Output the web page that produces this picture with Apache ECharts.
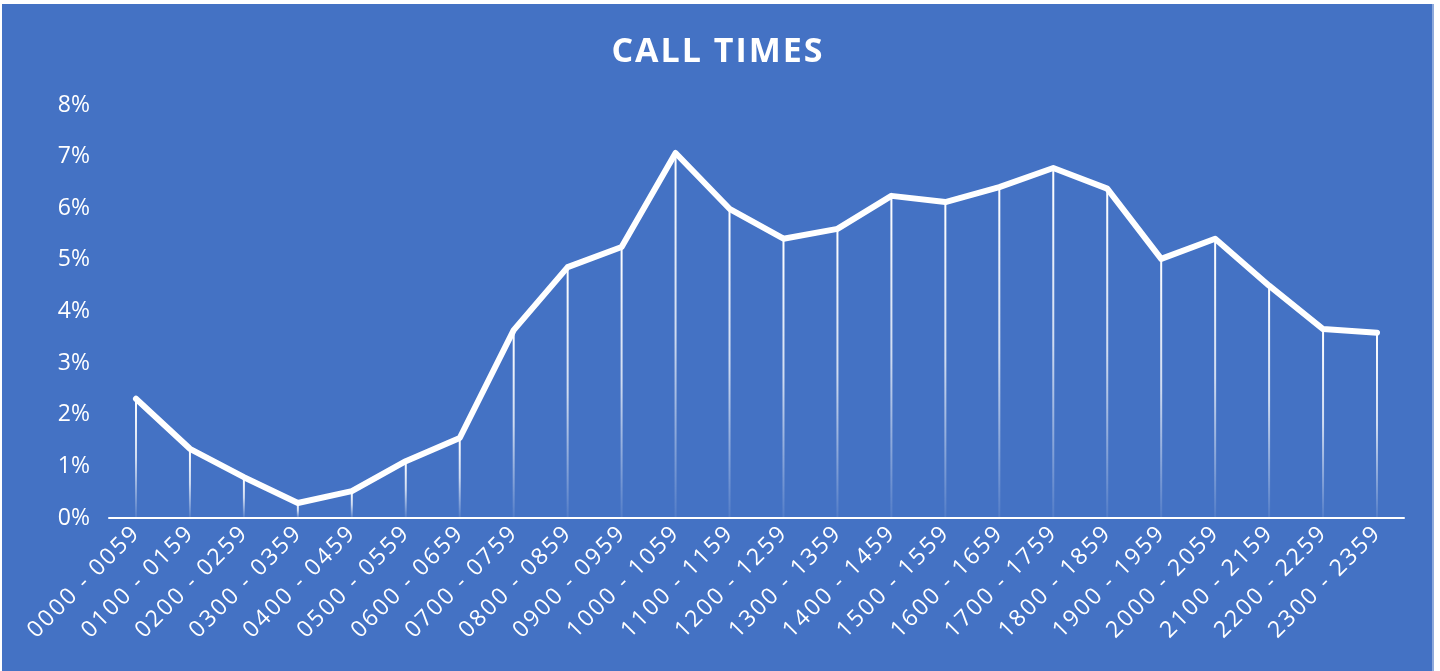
<!DOCTYPE html>
<html>
<head>
<meta charset="utf-8">
<script src="https://cdn.jsdelivr.net/npm/echarts@6/dist/echarts.min.js"></script>
<style>
html,body{margin:0;padding:0;background:#fff;width:1440px;height:671px;overflow:hidden;}
#chart{position:absolute;left:2px;top:4px;width:1432px;height:667px;background:#4472C4;border-right:2px solid #8FAADC;box-sizing:border-box;}
</style>
</head>
<body>
<div id="chart"></div>
<script>
const titleText = "CALL TIMES";
const categories = ["0000 - 0059","0100 - 0159","0200 - 0259","0300 - 0359","0400 - 0459","0500 - 0559","0600 - 0659","0700 - 0759","0800 - 0859","0900 - 0959","1000 - 1059","1100 - 1159","1200 - 1259","1300 - 1359","1400 - 1459","1500 - 1559","1600 - 1659","1700 - 1759","1800 - 1859","1900 - 1959","2000 - 2059","2100 - 2159","2200 - 2259","2300 - 2359"];
const callShare = [2.31,1.34,0.79,0.29,0.52,1.10,1.55,3.64,4.86,5.25,7.07,5.99,5.41,5.60,6.24,6.12,6.41,6.78,6.38,5.02,5.41,4.50,3.66,3.59];
const yTicks = [0,1,2,3,4,5,6,7,8];

// letter-spaced rendering via rich text: each character its own fragment
function spaced(s){ return s.split('').map(function(ch){ return '{c|' + ch + '}'; }).join(''); }

const chart = echarts.init(document.getElementById('chart'));
chart.setOption({
  animation:false,
  title:{text:spaced(titleText),left:'center',top:26,
    textStyle:{color:'#fff',fontFamily:'Open Sans',fontWeight:'bold',fontSize:34,
      rich:{c:{color:'#fff',fontFamily:'Open Sans',fontWeight:'bold',fontSize:34,padding:[0,1,0,1]}}}},
  grid:{left:107,right:28,top:101,bottom:153,containLabel:false},
  xAxis:{type:'category',data:categories,boundaryGap:true,
    axisLine:{lineStyle:{color:'#fff',width:2}},axisTick:{show:false},
    axisLabel:{color:'#fff',rotate:45,fontFamily:'Open Sans',fontSize:23,margin:12,interval:0,
      formatter:function(v){ return spaced(v); },
      rich:{c:{color:'#fff',fontFamily:'Open Sans',fontSize:23,padding:[0,1.1,0,1.1]}}}},
  yAxis:{type:'value',min:yTicks[0],max:yTicks[yTicks.length-1],interval:1,
    axisLine:{show:false},axisTick:{show:false},splitLine:{show:false},
    axisLabel:{color:'#fff',fontFamily:'Open Sans',fontSize:23,margin:19,formatter:'{value}%'}},
  series:[
    {type:'bar',data:callShare,barWidth:2,silent:true,
      itemStyle:{color:new echarts.graphic.LinearGradient(0,0,0,1,[{offset:0,color:'rgba(255,255,255,1)'},{offset:0.5,color:'rgba(255,255,255,0.75)'},{offset:1,color:'rgba(255,255,255,0.08)'}])}},
    {type:'line',data:callShare,symbol:'none',lineStyle:{color:'#fff',width:6,cap:'round',join:'round'},z:5}
  ]
});
</script>
</body>
</html>
